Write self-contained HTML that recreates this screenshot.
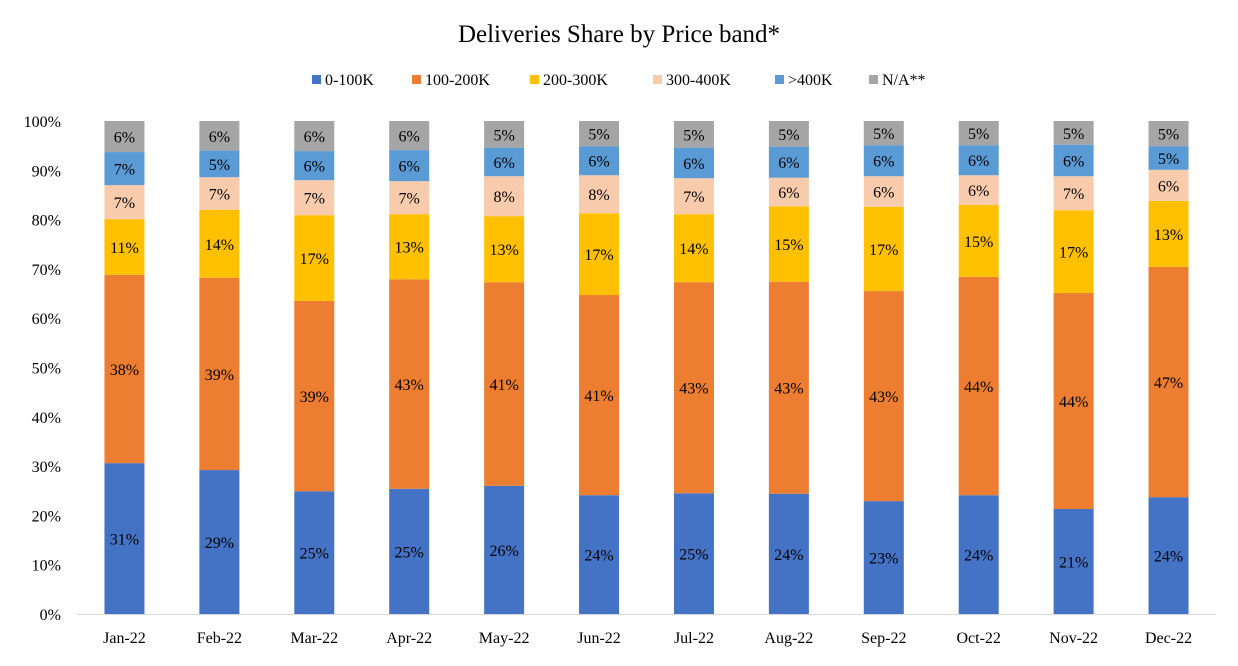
<!DOCTYPE html>
<html><head><meta charset="utf-8"><style>
body{margin:0;background:#fff;}
svg text{font-family:"Liberation Serif",serif;fill:#000;}
</style></head><body>
<svg id="chart" width="1238" height="661"></svg>
<script>
const categories=["Jan-22","Feb-22","Mar-22","Apr-22","May-22","Jun-22","Jul-22","Aug-22","Sep-22","Oct-22","Nov-22","Dec-22"];
const seriesNames=["0-100K","100-200K","200-300K","300-400K",">400K","N/A**"];
const s0_100=[30.6,29.2,24.9,25.4,26.0,24.1,24.5,24.4,22.9,24.1,21.3,23.7];
const s100_200=[38.2,39.0,38.6,42.5,41.3,40.6,42.8,43.0,42.6,44.3,43.8,46.7];
const s200_300=[11.3,13.8,17.4,13.2,13.4,16.6,13.8,15.3,17.1,14.6,16.8,13.4];
const s300_400=[6.9,6.6,7.1,6.7,8.1,7.7,7.3,5.8,6.2,6.0,6.9,6.3];
const s400=[6.7,5.4,5.9,6.3,5.8,5.9,6.2,6.3,6.3,6.1,6.4,4.8];
const sNA=[6.3,6.0,6.1,5.9,5.4,5.1,5.4,5.2,4.9,4.9,4.8,5.1];
const yTicks=[0,10,20,30,40,50,60,70,80,90,100];
const series=[s0_100,s100_200,s200_300,s300_400,s400,sNA];
const colors=["#4472C4","#ED7D31","#FFC000","#F8CBAD","#5B9BD5","#A5A5A5"];
const NS="http://www.w3.org/2000/svg";
const svg=document.getElementById("chart");
const x0=77,x1=1216,y0=614,y1=121,bw=40;
const band=(x1-x0)/categories.length;
const xc=i=>x0+band*(i+0.5);
const yv=v=>y0-(y0-y1)*v/100;
function mk(tag,attrs,parent){const e=document.createElementNS(NS,tag);for(const k in attrs)e.setAttribute(k,attrs[k]);(parent||svg).appendChild(e);return e;}
const title=mk("text",{x:619,y:42,"text-anchor":"middle","font-size":"25"});
title.textContent="Deliveries Share by Price band*";


const lg=mk("g",{});


const lx=[312,412,530,653,775,869];
seriesNames.forEach((n,i)=>{
 const g=mk("g",{},lg);
 
 
 mk("rect",{x:lx[i],y:75,width:9,height:9,fill:colors[i]},g);
 const t=mk("text",{x:lx[i]+13,y:85,"font-size":"16"},g);t.textContent=n;
});
yTicks.forEach(v=>{
 const t=mk("text",{x:61,y:yv(v)+6,"text-anchor":"end","font-size":"16"});
 t.textContent=v+"%";
 
 
});
const ax=mk("line",{x1:x0,x2:x1,y1:y0+0.5,y2:y0+0.5,stroke:"#d9d9d9","stroke-width":1});


categories.forEach((c,i)=>{
 const t=mk("text",{x:xc(i),y:643,"text-anchor":"middle","font-size":"16"});
 t.textContent=c;
 
 
 let cum=0;
 series.forEach((s,k)=>{
  const v=s[i];
  const r=mk("rect",{x:xc(i)-bw/2,y:yv(cum+v),width:bw,height:yv(cum)-yv(cum+v),fill:colors[k]});
  
  
  const l=mk("text",{x:xc(i),y:(yv(cum)+yv(cum+v))/2+6,"text-anchor":"middle","font-size":"16"});
  l.textContent=Math.round(v)+"%";
  
  
  cum+=v;
 });
});
</script>
</body></html>
